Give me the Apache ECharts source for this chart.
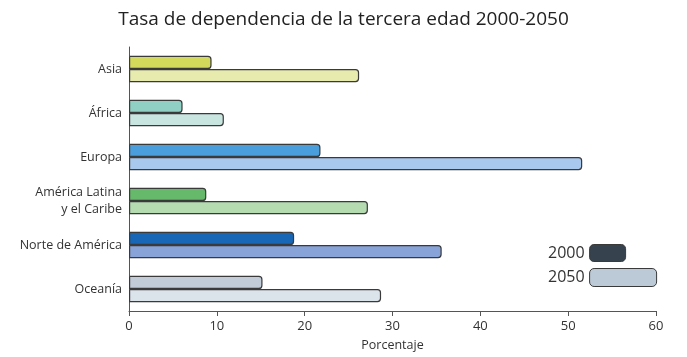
<!DOCTYPE html>
<html>
<head>
<meta charset="utf-8">
<script src="https://cdn.jsdelivr.net/npm/echarts@6/dist/echarts.min.js"></script>
<style>html,body{margin:0;padding:0;background:#fff}#c{width:687px;height:357px}</style>
</head>
<body>
<div id="c"></div>
<script>
const categories = ['Asia', 'África', 'Europa', 'América Latina\ny el Caribe', 'Norte de América', 'Oceanía'];
const values2000 = [9.4, 6.1, 21.8, 8.8, 18.8, 15.2];
const values2050 = [26.2, 10.8, 51.6, 27.2, 35.6, 28.7];
const xTicks = [0, 10, 20, 30, 40, 50, 60];
const seriesNames = ['2000', '2050'];

const colors2000 = ['#d3d95b', '#8fcfc4', '#4a9edb', '#66b96b', '#1767b6', '#c1ccd8'];
const colors2050 = ['#e7ebae', '#c9e5e0', '#a8c8ed', '#b5dbb1', '#88a3d7', '#dbe3eb'];
const FONT = 'Open Sans';
const border = '#3a3a3a';

const chart = echarts.init(document.getElementById('c'), null, {renderer: 'canvas'});
chart.setOption({
  animation: false,
  title: {
    text: 'Tasa de dependencia de la tercera edad 2000-2050',
    left: 'center', top: 5,
    textStyle: {fontFamily: FONT, fontSize: 19, fontWeight: 'normal', color: '#222'}
  },
  legend: [
    {data: [seriesNames[0]], left: 543, top: 239, align: 'right', icon: 'roundRect',
     itemWidth: 36, itemHeight: 17,
     textStyle: {fontFamily: FONT, fontSize: 16, color: '#333'},
     itemStyle: {color: '#36424e', borderColor: border, borderWidth: 1}},
    {data: [seriesNames[1]], left: 543, top: 263, align: 'right', icon: 'roundRect',
     itemWidth: 67, itemHeight: 18,
     textStyle: {fontFamily: FONT, fontSize: 16, color: '#333'},
     itemStyle: {color: '#bccad8', borderColor: border, borderWidth: 1}}
  ],
  grid: {left: 129, top: 47, width: 527, height: 264, containLabel: false},
  xAxis: {
    type: 'value', min: 0, max: 60, interval: 10,
    name: 'Porcentaje', nameLocation: 'middle', nameGap: 28,
    nameTextStyle: {fontFamily: FONT, fontSize: 12.5, color: '#333'},
    axisLine: {show: true, lineStyle: {color: '#555', width: 1}},
    axisTick: {show: true, length: 5, lineStyle: {color: '#555'}},
    axisLabel: {fontFamily: FONT, fontSize: 13, color: '#333', margin: 9,
      formatter: v => xTicks.includes(v) ? String(v) : ''},
    splitLine: {show: false}
  },
  yAxis: {
    type: 'category', data: categories, inverse: true,
    axisLine: {show: true, lineStyle: {color: '#555', width: 1}},
    axisTick: {show: false},
    axisLabel: {fontFamily: FONT, fontSize: 12.5, color: '#333', margin: 7, lineHeight: 17, align: 'right'}
  },
  series: [
    {
      name: seriesNames[0], type: 'bar', barGap: '0%', barCategoryGap: '40%',
      itemStyle: {color: '#36424e', borderColor: border, borderWidth: 1.2, borderRadius: [0, 3, 3, 0]},
      data: values2000.map((v, i) => ({value: v, itemStyle: {color: colors2000[i]}}))
    },
    {
      name: seriesNames[1], type: 'bar', barGap: '0%', barCategoryGap: '40%',
      itemStyle: {color: '#bccad8', borderColor: border, borderWidth: 1.2, borderRadius: [0, 3, 3, 0]},
      data: values2050.map((v, i) => ({value: v, itemStyle: {color: colors2050[i]}}))
    }
  ]
});
</script>
</body>
</html>
